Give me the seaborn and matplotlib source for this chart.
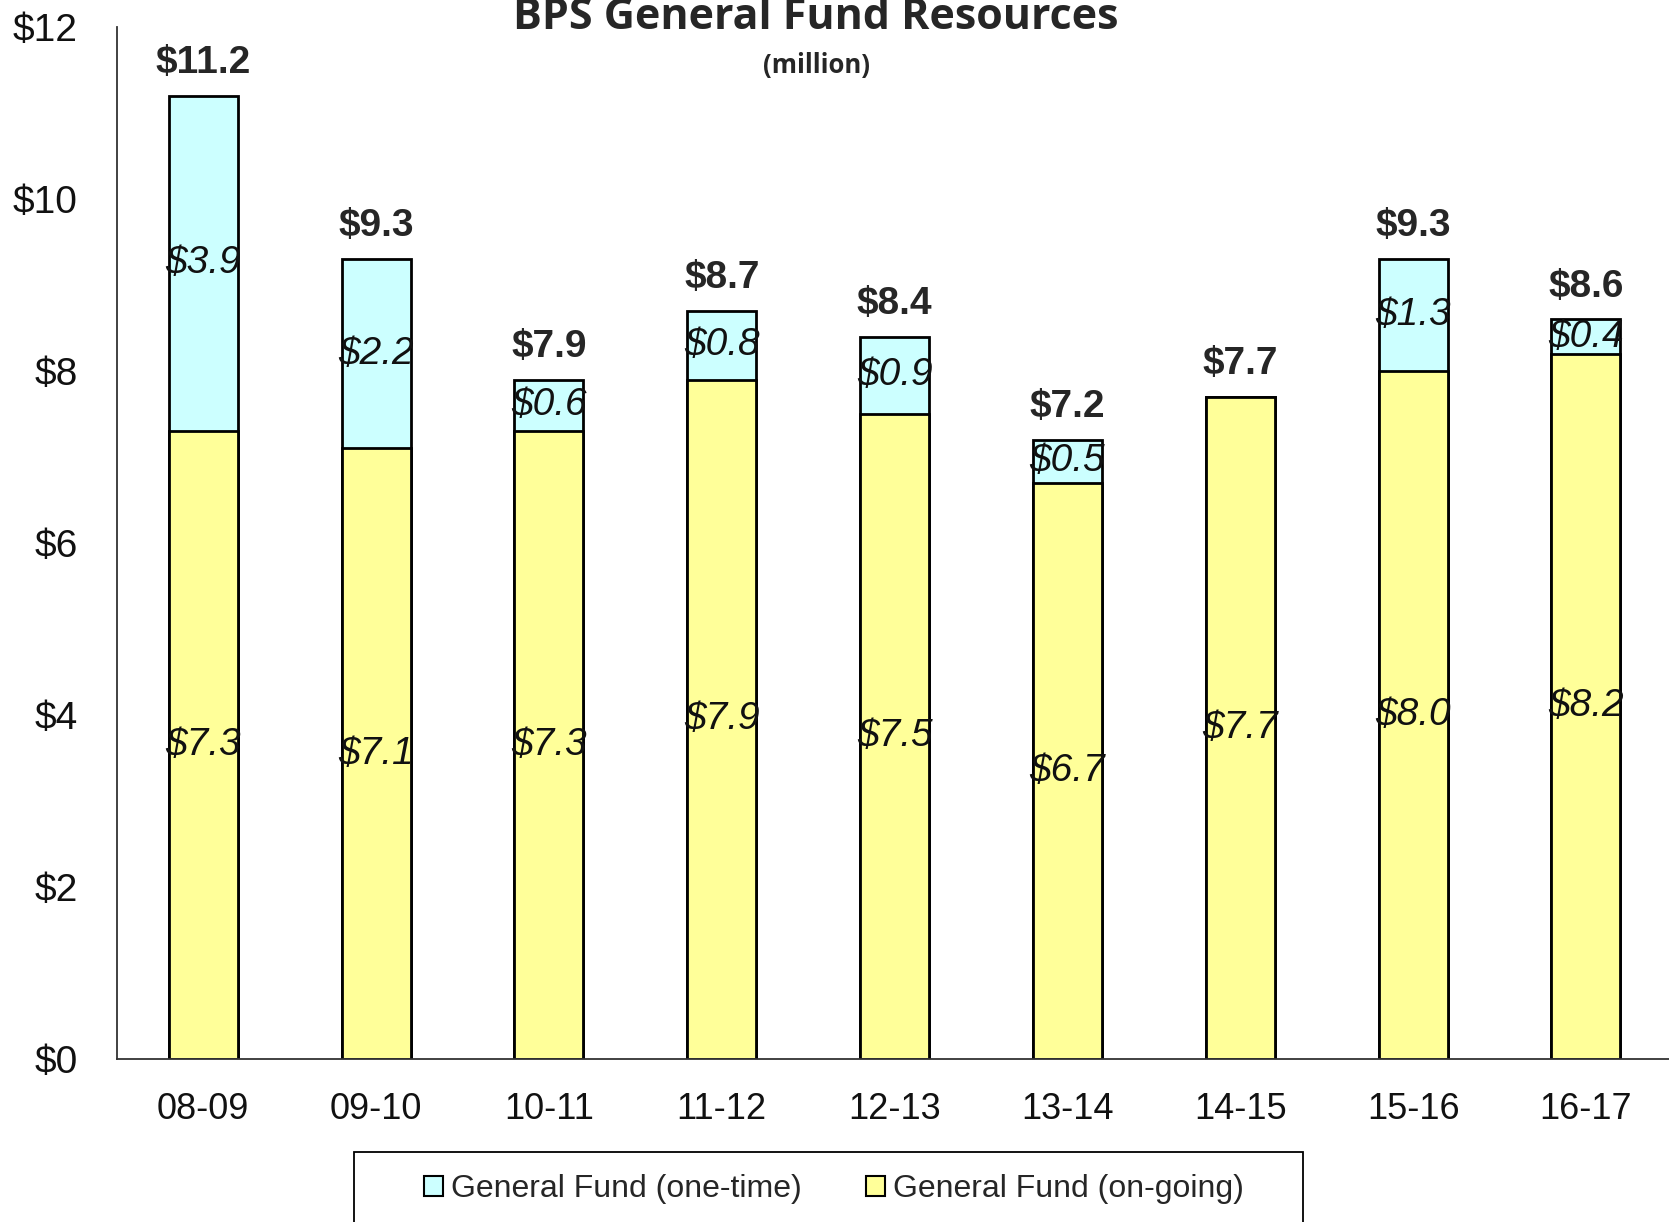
"""BPS General Fund Resources: stacked bars of one-time and on-going funds."""

import matplotlib.pyplot as plt
import numpy as np
import pandas as pd
import seaborn as sns
from matplotlib.patches import Patch, Rectangle

years = ["08-09", "09-10", "10-11", "11-12", "12-13", "13-14", "14-15", "15-16", "16-17"]
ongoing = [7.3, 7.1, 7.3, 7.9, 7.5, 6.7, 7.7, 8.0, 8.2]
onetime = [3.9, 2.2, 0.6, 0.8, 0.9, 0.5, 0.0, 1.3, 0.4]
totals = [11.2, 9.3, 7.9, 8.7, 8.4, 7.2, 7.7, 9.3, 8.6]

CYAN, YELLOW = "#CCFFFF", "#FFFF99"

sns.set_style("white")
plt.rcParams["font.family"] = ["Liberation Sans", "DejaVu Sans"]

df = pd.DataFrame({"year": years, "ongoing": ongoing, "onetime": onetime, "total": totals})

fig = plt.figure(figsize=(16.69, 12.22), dpi=100)
ax = fig.add_axes([0.070, 0.1334, 0.932, 0.8446])

# stacked: full total in cyan, on-going in yellow drawn over it
sns.barplot(data=df, x="year", y="total", color=CYAN, edgecolor="black", linewidth=2,
            width=0.4, saturation=1, ax=ax)
sns.barplot(data=df, x="year", y="ongoing", color=YELLOW, edgecolor="black", linewidth=2,
            width=0.4, saturation=1, ax=ax)

for i, row in df.iterrows():
    ax.text(i, row.ongoing / 2, f"${row.ongoing:.1f}", ha="center", va="center",
            fontsize=28, style="italic", color="#111111")
    if row.onetime > 0:
        ax.text(i, row.ongoing + row.onetime / 2, f"${row.onetime:.1f}", ha="center",
                va="center", fontsize=28, style="italic", color="#111111")
    ax.text(i, row.total + 0.38, f"${row.total:.1f}", ha="center", va="center",
            fontsize=28, fontweight="bold")

ax.set_xlim(-0.5, 8.5)
ax.set_ylim(0, 12)
ax.set_yticks(np.arange(0, 13, 2))
ax.set_yticklabels([f"${v}" for v in range(0, 13, 2)])
ax.set_xticks(np.arange(-0.5, 9, 1), minor=True)
ax.tick_params(axis="x", which="major", length=0, pad=24, labelsize=26, colors="#111111")
ax.tick_params(axis="x", which="minor", length=10, width=1.3, direction="out", color="#333333")
ax.tick_params(axis="y", length=8, width=1.3, direction="out", pad=20, labelsize=28,
               colors="#111111")
ax.tick_params(axis="both", color="#333333")
ax.set_xlabel("")
ax.set_ylabel("")
for side in ("top", "right"):
    ax.spines[side].set_visible(False)
for side in ("left", "bottom"):
    ax.spines[side].set_linewidth(1.3)
    ax.spines[side].set_color("#333333")

fig.text(0.489, 0.986, "BPS General Fund Resources", ha="center", va="center",
         fontsize=31, fontweight="bold", family=["Open Sans", "DejaVu Sans"])
fig.text(0.489, 0.946, "(million)", ha="center", va="center", fontsize=18.5,
         fontweight="bold", family=["Open Sans", "DejaVu Sans"])

# legend box running off the bottom edge, as in the source
fig.add_artist(Rectangle((0.212, -0.05), 0.569, 0.1073, transform=fig.transFigure,
                         facecolor="white", edgecolor="black", linewidth=1.3))
handles = [Patch(facecolor=CYAN, edgecolor="black", linewidth=1.5, label="General Fund (one-time)"),
           Patch(facecolor=YELLOW, edgecolor="black", linewidth=1.5, label="General Fund (on-going)")]
fig.legend(handles=handles, loc="center", bbox_to_anchor=(0.4995, 0.027), ncol=2,
           fontsize=23, frameon=False, handlelength=0.6, handleheight=0.6,
           handletextpad=0.25, columnspacing=2.0)

fig.savefig("out.png", dpi=100)
